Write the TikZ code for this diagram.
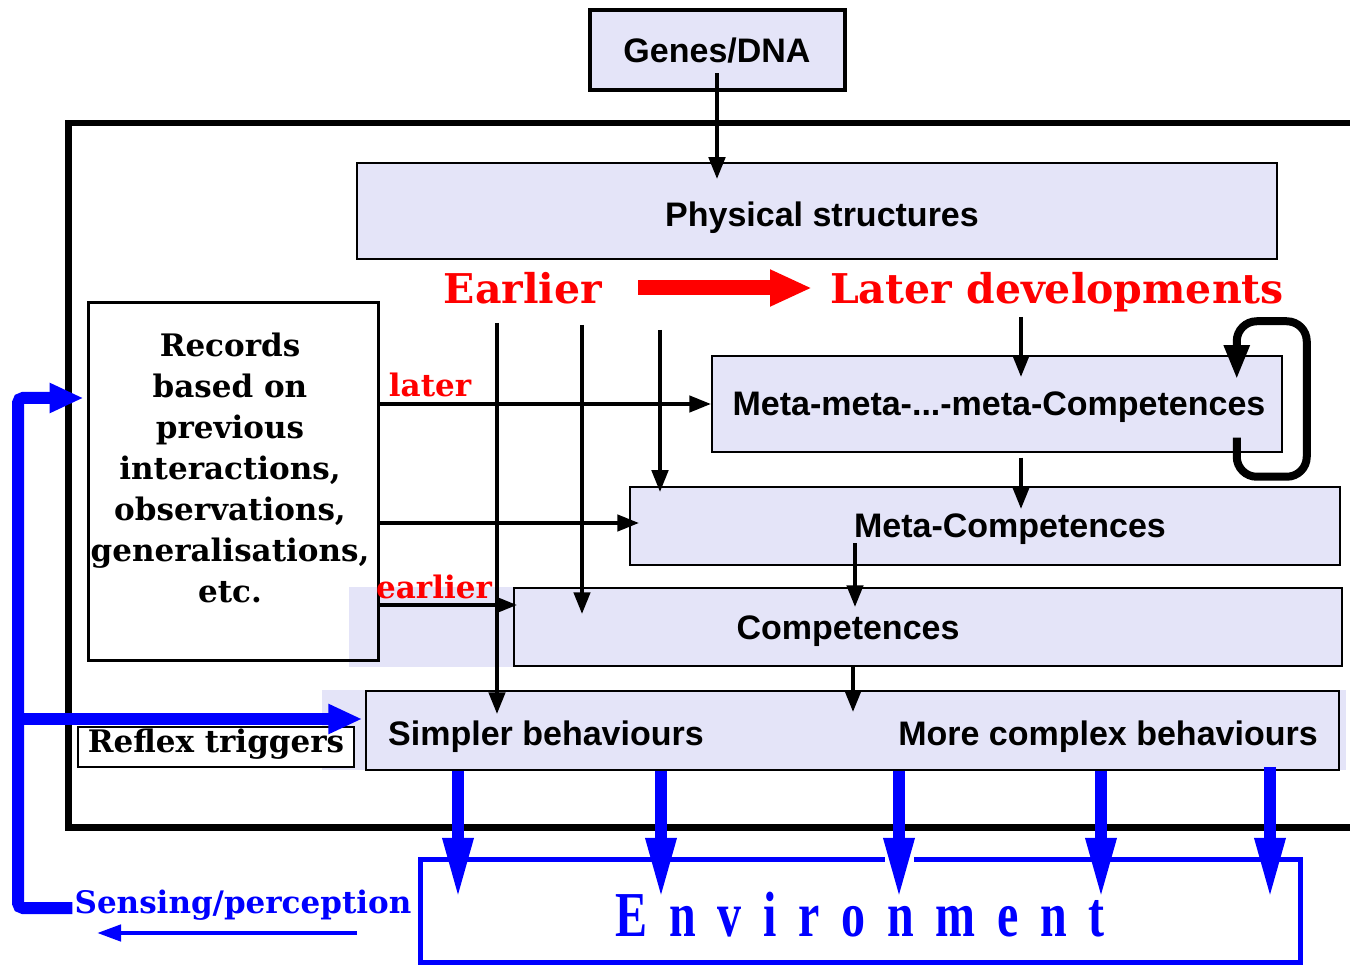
\documentclass[tikz,border=0pt]{standalone}
\usepackage{fontspec}
\usepackage{graphicx}
\setsansfont{Liberation Sans}
\newfontfamily\labelserif{DejaVu Serif}
\newfontfamily\envserif{Liberation Serif}
\usetikzlibrary{arrows.meta,calc}

\definecolor{boxfill}{RGB}{228,228,248}
\definecolor{pureblue}{RGB}{0,0,255}
\definecolor{purered}{RGB}{255,0,0}

\newcommand{\envgap}{\hspace{29pt}}

\tikzset{
  stagebox/.style={draw=black, line width=1.5pt, fill=boxfill, inner sep=0pt},
  sanstext/.style={font=\sffamily\bfseries\fontsize{34}{40}\selectfont, inner sep=0pt, anchor=base},
  seriftext/.style={font=\labelserif\bfseries\fontsize{31}{41}\selectfont, inner sep=0pt},
  bigred/.style={font=\labelserif\bfseries\fontsize{41}{48}\selectfont, text=purered, inner sep=0pt, anchor=base},
  flow/.style={line width=4.5pt, -{Triangle[length=22pt,width=16pt]}},
  outflow/.style={draw=pureblue, line width=12pt, -{Triangle[length=62pt,width=28pt]}},
  feedline/.style={draw=pureblue, line width=12pt, rounded corners=5pt,
    -{Triangle[length=34pt,width=28pt]}},
}

\begin{document}
\begin{tikzpicture}[x=1pt,y=-1pt]
\useasboundingbox (0,0) rectangle (1350,965);

% outer frame of the agent (open on the right)
\draw[line width=6.5pt] (1360,123) -- (68.5,123) -- (68.5,827.5) -- (1360,827.5);

% pale shading behind the lower stages
\fill[boxfill] (349,587) rectangle (514,667);
\fill[boxfill] (322,690) rectangle (366,770);
\fill[boxfill] (1339,690) rectangle (1346,770);

% boxes
\node[stagebox, line width=4pt, minimum width=255pt, minimum height=80pt] (genes) at (717,50.5) {};
\node[stagebox, minimum width=920pt, minimum height=96pt] (phys) at (817,211) {};
\node[stagebox, minimum width=570pt, minimum height=96pt] (meta2) at (997,404) {};
\node[stagebox, minimum width=710pt, minimum height=78pt] (meta1) at (985,526) {};
\node[stagebox, minimum width=828pt, minimum height=78pt] (comp) at (928,627) {};
\node[stagebox, minimum width=973pt, minimum height=79pt] (beh) at (852.5,730.5) {};
\node[draw=black, line width=3pt, minimum width=290pt, minimum height=357pt, inner sep=0pt] (records) at (233,481.5) {};
\node[draw=black, line width=1.5pt, fill=white, minimum width=276pt, minimum height=40pt, inner sep=0pt] (reflexbox) at (216,747) {};
\node[minimum width=879pt, minimum height=102pt, inner sep=0pt] (env) at (860.5,911) {};

% box texts
\node[sanstext] (tgenes) at (717,63) {Genes/DNA};
\node[sanstext] (tphys) at (822,227) {Physical structures};
\node[sanstext] (tmeta2) at (999,416) {Meta-meta-...-meta-Competences};
\node[sanstext] (tmeta1) at (1010,537) {Meta-Competences};
\node[sanstext] (tcomp) at (848,639) {Competences};
\node[sanstext] (tsimple) at (546,745) {Simpler behaviours};
\node[sanstext] (tcomplex) at (1108,745) {More complex behaviours};

\node[seriftext, align=center] (trecords) at (230,468)
  {Records\\based on\\previous\\interactions,\\observations,\\generalisations,\\etc.};
\node[seriftext] (treflex) at (216,744) {Reflex triggers};

% red labels
\node[bigred] (tearlier) at (523,304) {Earlier};
\node[bigred] (tlaterdev) at (1057,304) {Later developments};
\node[seriftext, text=purered] (tlater) at (430,385) {later};
\node[seriftext, text=purered] (tearl) at (434,587) {earlier};

% environment box with an opening in its top edge
\draw[draw=pureblue, line width=5pt, line join=miter]
  ($(env.north)+(53.5,0)$) -| (env.south east) -| (env.north west) -- ($(env.north)+(24.5,0)$);
\node[inner sep=0pt, text=pureblue] (tenv) at (860,915)
  {\scalebox{0.75}[1]{\envserif\bfseries\fontsize{64}{70}\selectfont
   E\envgap n\envgap v\envgap i\envgap r\envgap o\envgap n\envgap m\envgap e\envgap n\envgap t}};

\node[seriftext, text=pureblue] (sense) at (243,905) {Sensing/perception};

% development arrow
\coordinate (redstart) at (638,288);
\coordinate (redend) at (812,288);
\draw[purered, line width=15pt, -{Triangle[length=42pt,width=34pt]}] (redstart) -- (redend);

% black flows
\draw[flow] ($(genes.center)+(0,23)$) -- ($(genes.center |- phys.north)+(0,17)$);

\coordinate (drop1) at (497,323);
\coordinate (drop2) at (582,325);
\coordinate (drop3) at (660,330);
\coordinate (drop4) at (1021,317);
\draw[flow] (drop1) -- ($(drop1 |- beh.north)+(0,24)$);
\draw[flow] (drop2) -- ($(drop2 |- comp.north)+(0,27)$);
\draw[flow] (drop3) -- ($(drop3 |- meta1.north)+(0,6)$);
\draw[flow] (drop4) -- ($(drop4 |- meta2.north)+(0,22)$);
\draw[flow] ($(drop4 |- meta2.south)+(0,5)$) -- ($(drop4 |- meta1.north)+(0,23)$);
\draw[flow] ($(855,0 |- meta1.center)+(0,17)$) -- ($(855,0 |- comp.north)+(0,20)$);
\draw[flow] ($(853,0 |- comp.south)+(0,-1)$) -- ($(853,0 |- beh.north)+(0,22)$);

\draw[flow] (records.east |- meta2.west) -- (meta2.west);
\draw[flow] ($(records.east |- meta1.west)+(0,-3)$) -- ($(meta1.west)+(10,-3)$);
\draw[flow] ($(records.east |- comp.west)+(0,-22)$) -- ($(comp.west)+(4,-22)$);

% self-reference loop on the meta-meta level
\draw[line width=8pt, rounded corners=20pt, -{Triangle[length=34pt,width=24pt]}]
  ($(meta2.south east)+(-46,-15)$) -- ($(meta2.south east)+(-46,24)$)
  -- ($(meta2.south east)+(24,24)$) -- ($(meta2.north east)+(24,-34)$)
  -- ($(meta2.north east)+(-46,-34)$) -- ($(meta2.north east)+(-46,24)$);

% actions on the environment
\foreach \xo/\ys in {458/0,661/0,899/0,1101/0,1270/-4}
  \draw[outflow] ($(\xo,0 |- beh.south)+(0,\ys)$) -- ($(\xo,0 |- env.north)+(0,40)$);

% sensing feedback
\coordinate (fbcorner) at (18,908);
\coordinate (fbtop) at (18,398);
\draw[feedline] ($(sense.west)+(-2,3)$) -- (fbcorner) -- (fbtop) -- ($(records.west |- fbtop)+(-3,0)$);
\draw[feedline, rounded corners=0pt] ($(fbtop |- beh.west)+(0,-11.5)$) -- ($(beh.west)+(-3,-11.5)$);

\coordinate (sensestart) at (357,933);
\coordinate (senseend) at (97,933);
\draw[pureblue, line width=4.5pt, -{Triangle[length=24pt,width=16pt]}] (sensestart) -- (senseend);
\end{tikzpicture}
\end{document}
